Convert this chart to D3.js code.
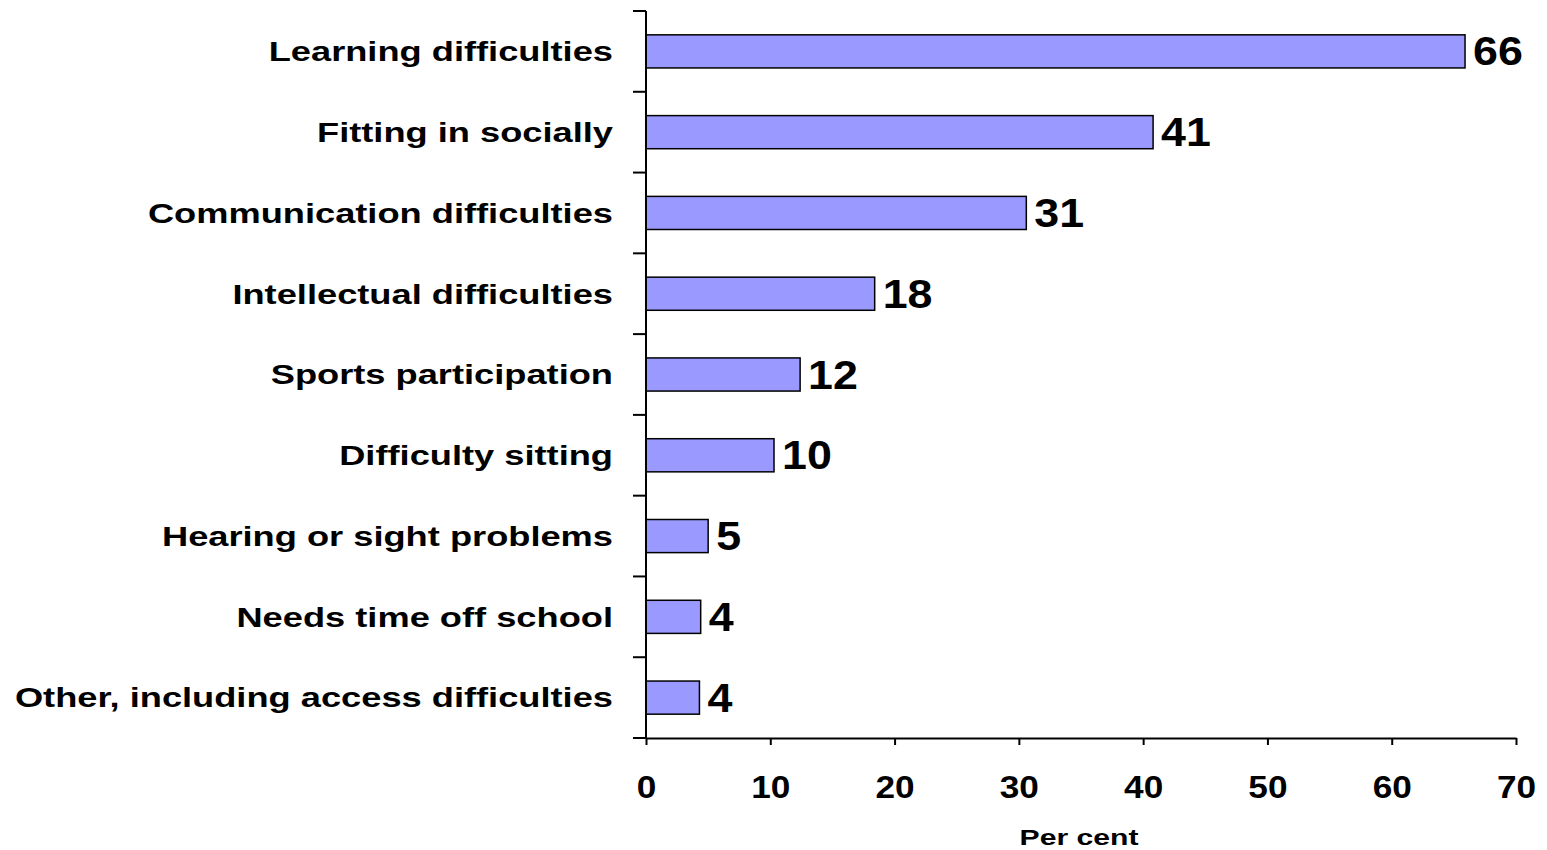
<!DOCTYPE html>
<html>
<head>
<meta charset="utf-8">
<script src="https://cdn.jsdelivr.net/npm/d3@7"></script>
<style>
  html, body { margin: 0; padding: 0; background: #ffffff; }
  svg { display: block; font-family: Arial, "Liberation Sans", sans-serif; }
</style>
</head>
<body>
<svg id="chart" width="1547" height="850"></svg>
<script>
const categories = [
  "Learning difficulties",
  "Fitting in socially",
  "Communication difficulties",
  "Intellectual difficulties",
  "Sports participation",
  "Difficulty sitting",
  "Hearing or sight problems",
  "Needs time off school",
  "Other, including access difficulties"
];
const values = [65.9, 40.8, 30.6, 18.4, 12.4, 10.3, 5.0, 4.4, 4.3];
const xTicks = [0, 10, 20, 30, 40, 50, 60, 70];
const xTitle = "Per cent";

(function () {
const svg = d3.select("#chart");
const plotLeft = 646, plotRight = 1516, plotTop = 11, plotBottom = 738;

const x = d3.scaleLinear().domain([0, 70]).range([plotLeft, plotRight]);
const y = d3.scaleBand().domain(categories).range([plotTop, plotBottom])
  .paddingInner(0.59).paddingOuter(0.295);

// bars
svg.append("g").selectAll("rect")
  .data(values)
  .join("rect")
  .attr("x", x(0))
  .attr("y", (d, i) => y(categories[i]))
  .attr("width", d => x(d) - x(0))
  .attr("height", y.bandwidth())
  .attr("fill", "#9999FF")
  .attr("stroke", "#000")
  .attr("stroke-width", 1.5);

// value labels
svg.append("g").selectAll("text")
  .data(values)
  .join("text")
  .attr("transform", (d, i) => `translate(${x(d) + 8},${y(categories[i]) + y.bandwidth() / 2}) scale(1.12,1)`)
  .attr("dy", "0.35em")
  .attr("font-size", 40)
  .attr("font-weight", "bold")
  .attr("fill", "#000")
  .text(d => Math.round(d));

// category labels
svg.append("g").selectAll("text")
  .data(categories)
  .join("text")
  .attr("transform", d => `translate(613,${y(d) + y.bandwidth() / 2}) scale(1.295,1)`)
  .attr("dy", "0.35em")
  .attr("text-anchor", "end")
  .attr("font-size", 28)
  .attr("font-weight", "bold")
  .attr("fill", "#000")
  .text(d => d);

// y axis line and band ticks
const step = y.step();
const bounds = d3.range(categories.length + 1).map(i => plotTop + i * step);
const yAxis = svg.append("g");
yAxis.append("line")
  .attr("x1", plotLeft).attr("x2", plotLeft)
  .attr("y1", plotTop).attr("y2", plotBottom)
  .attr("stroke", "#000").attr("stroke-width", 2);
yAxis.selectAll("line.tick")
  .data(bounds)
  .join("line")
  .attr("class", "tick")
  .attr("x1", plotLeft - 13).attr("x2", plotLeft)
  .attr("y1", d => d).attr("y2", d => d)
  .attr("stroke", "#000").attr("stroke-width", 2);

// x axis
const xAxis = d3.axisBottom(x).tickValues(xTicks).tickSize(7).tickSizeOuter(0).tickPadding(53);
const gx = svg.append("g").attr("transform", `translate(0,${plotBottom})`).call(xAxis);
gx.select(".domain").attr("stroke", "#000").attr("stroke-width", 2);
gx.selectAll(".tick line").attr("stroke", "#000").attr("stroke-width", 2);
gx.selectAll(".tick text")
  .attr("font-size", 32)
  .attr("font-weight", "bold")
  .attr("font-family", "Arial, 'Liberation Sans', sans-serif")
  .attr("fill", "#000")
  .attr("dy", "0em")
  .attr("transform", "scale(1.1,1)");

// x title
svg.append("text")
  .attr("transform", `translate(${(plotLeft + plotRight) / 2 - 2},845) scale(1.37,1)`)
  .attr("text-anchor", "middle")
  .attr("font-size", 22)
  .attr("font-weight", "bold")
  .attr("fill", "#000")
  .text(xTitle);
})();
</script>
</body>
</html>
